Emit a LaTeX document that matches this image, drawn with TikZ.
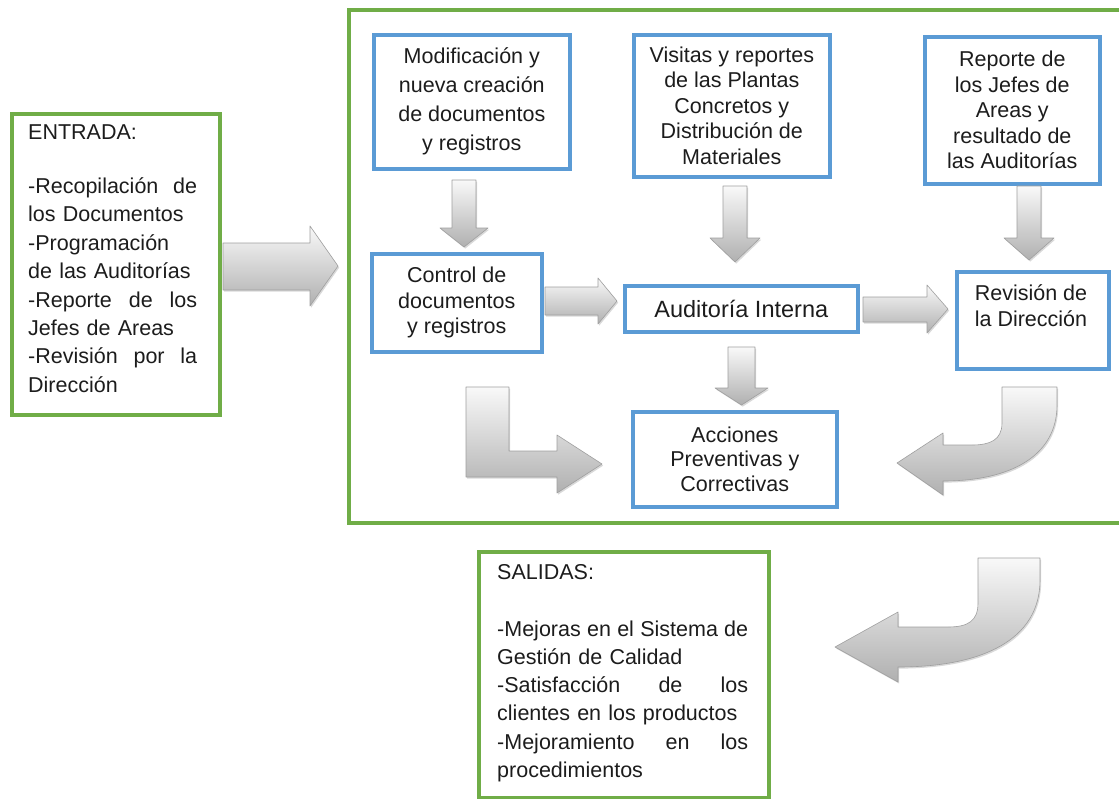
\documentclass[tikz,border=0pt]{standalone}
\usepackage{fontspec}
\setmainfont{Liberation Sans}
\usetikzlibrary{shadows}
\definecolor{boxgreen}{RGB}{112,173,71}
\definecolor{boxblue}{RGB}{91,155,213}
\definecolor{txt}{RGB}{28,28,28}

\begin{document}
\begin{tikzpicture}[x=1pt,y=-1pt,
  every node/.style={text=txt, inner sep=0pt, font=\fontsize{21.5}{25.5}\selectfont},
  greenbox/.style={draw=boxgreen, line width=4pt, anchor=north west},
  bluebox/.style={draw=boxblue, line width=3.6pt, anchor=north west, align=center},
  listtext/.style={anchor=base west, align=left},
  blockarrow/.style={draw=gray!75, line width=0.6pt, line join=round,
    top color=gray!5, bottom color=gray!62,
    drop shadow={opacity=0.3, shadow xshift=1.2pt, shadow yshift=-1.6pt}}
]
\useasboundingbox (0,0) rectangle (1119,798);

% ---------- input, process frame and output ----------
\node[greenbox, minimum width=208pt, minimum height=301pt] (entrada) at (10,112) {};
\node[listtext, text width=169pt, font=\fontsize{21.5}{28.4}\selectfont] (entradatxt) at (28,139)
  {ENTRADA:\\[26pt]
   -Recopilación\hfill de\\
   los Documentos\\
   -Programación\\
   de las Auditorías\\
   -Reporte\hfill de\hfill los\\
   Jefes de Areas\\
   -Revisión\hfill por\hfill la\\
   Dirección};

\node[greenbox, minimum width=800pt, minimum height=513pt] (proc) at (347,8) {};

\node[greenbox, minimum width=290pt, minimum height=246pt] (salidas) at (477,550) {};
\node[listtext, text width=251pt, font=\fontsize{21.5}{28.2}\selectfont] (salidastxt) at (497,579)
  {SALIDAS:\\[29pt]
   -Mejoras\hfill en\hfill el\hfill Sistema\hfill de\\
   Gestión de Calidad\\
   -Satisfacción\hfill de\hfill los\\
   clientes en los productos\\
   -Mejoramiento\hfill en\hfill los\\
   procedimientos};

% ---------- process steps ----------
\node[bluebox, minimum width=196pt, minimum height=134pt, font=\fontsize{21.5}{29}\selectfont] (mod) at (372,33)
  {Modificación y\\nueva creación\\de documentos\\y registros};
\node[bluebox, minimum width=196pt, minimum height=142pt] (vis) at (632,33)
  {Visitas y reportes\\de las Plantas\\Concretos y\\Distribución de\\Materiales};
\node[bluebox, minimum width=175pt, minimum height=147pt] (rep) at (923,35)
  {Reporte de\\los Jefes de\\Areas y\\resultado de\\las Auditorías};
\node[bluebox, minimum width=170pt, minimum height=98pt] (ctrl) at (370,252)
  {Control de\\documentos\\y registros};
\node[bluebox, minimum width=233pt, minimum height=46pt, font=\fontsize{23.5}{27}\selectfont] (aud) at (623,284)
  {Auditoría Interna};
\node[bluebox, minimum width=152pt, minimum height=97pt] (rev) at (955,270) {};
\node[anchor=base, align=center] (revtxt) at (1031,326) {Revisión de\\la Dirección};
\node[bluebox, minimum width=204pt, minimum height=95pt, font=\fontsize{21.5}{24.5}\selectfont] (acc) at (631,410)
  {Acciones\\Preventivas y\\Correctivas};

% ---------- block arrows ----------
% input -> process
\path[blockarrow] (223,243) -- (310,243) -- (310,226) -- (338,266) -- (310,306)
  -- (310,290) -- (223,290) -- cycle;
% downward arrows
\path[blockarrow] (452,180) -- (476,180) -- (476,228) -- (488,228) -- (464,247)
  -- (440,228) -- (452,228) -- cycle;
\path[blockarrow] (723,186) -- (747,186) -- (747,238) -- (760,238) -- (735,262)
  -- (710,238) -- (723,238) -- cycle;
\path[blockarrow] (1017,186) -- (1041,186) -- (1041,238) -- (1054,238) -- (1029,260)
  -- (1004,238) -- (1017,238) -- cycle;
\path[blockarrow] (728,347) -- (755,347) -- (755,388) -- (768,388) -- (741.5,405)
  -- (715,388) -- (728,388) -- cycle;
% horizontal arrows
\path[blockarrow] (545,287) -- (598,287) -- (598,278) -- (617,301) -- (598,324)
  -- (598,315) -- (545,315) -- cycle;
\path[blockarrow] (863,297) -- (927,297) -- (927,285) -- (948,309) -- (927,333)
  -- (927,322) -- (863,322) -- cycle;
% bent arrow towards the actions
\path[blockarrow] (466,387) -- (509,387) -- (509,451) -- (557,451) -- (557,435)
  -- (602,464) -- (557,493) -- (557,477) -- (466,477) -- cycle;
% curved arrow towards the actions
\path[blockarrow] (1002,387) -- (1057,387) -- (1057,405)
  .. controls (1057,455) and (1012,481) .. (943,481) -- (943,495) -- (897,463)
  -- (943,433) -- (943,445) -- (972,445)
  .. controls (990,445) and (1002,440) .. (1002,423) -- cycle;
% curved arrow towards the outputs
\path[blockarrow] (978,558) -- (1040,558) -- (1040,580)
  .. controls (1040,640) and (982,667) .. (898,667) -- (898,682) -- (835,647)
  -- (898,612) -- (898,627) -- (948,627)
  .. controls (968,627) and (978,621) .. (978,603) -- cycle;
\end{tikzpicture}
\end{document}
